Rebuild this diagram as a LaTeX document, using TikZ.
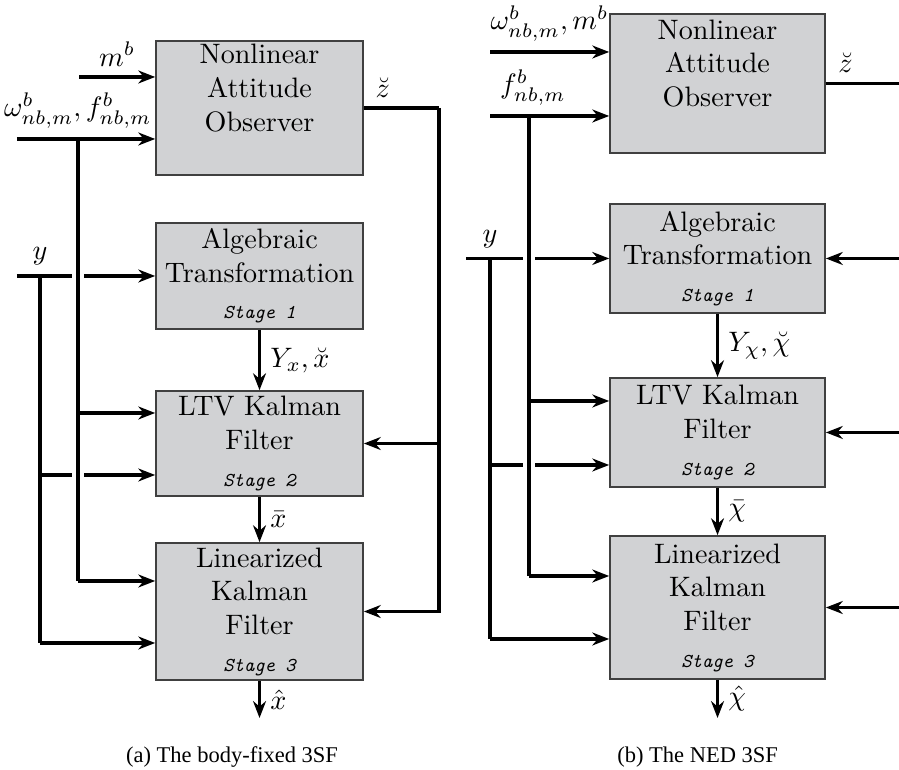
\documentclass[tikz,border=0pt]{standalone}
\usetikzlibrary{arrows.meta}
\font\capfont="Liberation Serif" at 8pt
\definecolor{boxgray}{RGB}{209,210,212}
\newcommand{\stg}[1]{\\[1pt]{\scriptsize\ttfamily\itshape Stage #1}}
\begin{document}
\begin{tikzpicture}
    [line width=1.1pt,>={Stealth[length=6pt,width=4.6pt]},
     block/.style={draw=black!75,line width=0.6pt,fill=boxgray,align=center,inner sep=0pt},
     blocka/.style={block,minimum width=2.5875cm},
     blockb/.style={block,minimum width=2.6875cm}]
    \useasboundingbox (0,0) rectangle (11.2375,9.625);
    % (a) body-fixed
    \node[blocka,minimum height=1.675cm] (observera) at (3.244,8.275) {Nonlinear\\Attitude\\Observer\\[1pt]{\scriptsize\phantom{Stage}}};
    \node[blocka,minimum height=1.325cm] (algebraica) at (3.244,6.175) {Algebraic\\Transformation\stg{1}};
    \node[blocka,minimum height=1.3125cm] (ltva) at (3.244,4.081) {LTV Kalman\\Filter\stg{2}};
    \node[blocka,minimum height=1.7125cm] (lineara) at (3.244,1.981) {Linearized\\Kalman\\Filter\stg{3}};
    \coordinate (mina) at (0.9875,8.6625);
    \coordinate (ina) at (0.2125,7.8875);
    \coordinate (wa) at (0.975,7.8875);
    \coordinate (wa2) at (0.975,4.4625);
    \coordinate (wa3) at (0.975,2.3625);
    \coordinate (yina) at (0.2125,6.175);
    \coordinate (ya) at (0.5,6.175);
    \coordinate (ya2) at (0.5,3.6875);
    \coordinate (ya3) at (0.5,1.5875);
    \coordinate (fba) at (5.4875,8.275);
    \coordinate (outa) at (3.244,0.65);
    \draw[->] (mina) -- (mina -| observera.west) node[midway,above] (mlabela) {$m^b$};
    \draw[->] (ina) -- (ina -| observera.west) node[pos=.44,above] (wlabela) {$\omega^b_{nb,m},f^b_{nb,m}$};
    \draw (wa) -- (wa3);
    \draw[->] (wa2) -- (wa2 -| ltva.west);
    \draw[->] (wa3) -- (wa3 -| lineara.west);
    \draw (yina) -- ([xshift=-.075cm]ya -| wa);
    \draw[->] ([xshift=.075cm]ya -| wa) -- (algebraica.west);
    \node[above] (ylabela) at (ya) {$y$};
    \draw (ya) -- (ya3);
    \draw (ya2) -- ([xshift=-.075cm]ya2 -| wa);
    \draw[->] ([xshift=.075cm]ya2 -| wa) -- (ya2 -| ltva.west);
    \draw[->] (ya3) -- (ya3 -| lineara.west);
    \draw (observera.east) -- (fba) node[pos=.25,above] (zlabela) {$\breve{z}$};
    \draw[->] (fba) |- (lineara.east);
    \draw[->] (fba |- ltva.east) -- (ltva.east);
    \draw[->] (algebraica.south) -- (ltva.north) node[midway,right] (ylaba) {$Y_x,\breve{x}$};
    \draw[->] (ltva.south) -- (lineara.north) node[midway,right] (xbara) {$\bar{x}$};
    \draw[->] (lineara.south) -- (outa) node[midway,right] (xhata) {$\hat{x}$};
    \node[font=\capfont] (capa) at (2.9,0.1625) {(a) The body-fixed 3SF};
    % (b) NED
    \node[blockb,minimum height=1.7375cm] (observerb) at (8.969,8.581) {Nonlinear\\Attitude\\Observer\\[1pt]{\scriptsize\phantom{Stage}}};
    \node[blockb,minimum height=1.3625cm] (algebraicb) at (8.969,6.394) {Algebraic\\Transformation\stg{1}};
    \node[blockb,minimum height=1.3625cm] (ltvb) at (8.969,4.219) {LTV Kalman\\Filter\stg{2}};
    \node[blockb,minimum height=1.7875cm] (linearb) at (8.969,2.031) {Linearized\\Kalman\\Filter\stg{3}};
    \coordinate (minb) at (6.125,8.975);
    \coordinate (inb) at (6.125,8.175);
    \coordinate (wb) at (6.6125,8.175);
    \coordinate (wb2) at (6.6125,4.6125);
    \coordinate (wb3) at (6.6125,2.425);
    \coordinate (yinb) at (5.825,6.394);
    \coordinate (yb) at (6.125,6.394);
    \coordinate (yb2) at (6.125,3.8125);
    \coordinate (yb3) at (6.125,1.6375);
    \coordinate (edgeb) at (11.2375,8.581);
    \coordinate (outb) at (8.969,0.65);
    \draw[->] (minb) -- (minb -| observerb.west) node[midway,above] (mlabelb) {$\omega^b_{nb,m},m^b$};
    \draw[->] (inb) -- (inb -| observerb.west) node[pos=.36,above] (flabelb) {$f^b_{nb,m}$};
    \draw (wb) -- (wb3);
    \draw[->] (wb2) -- (wb2 -| ltvb.west);
    \draw[->] (wb3) -- (wb3 -| linearb.west);
    \draw (yinb) -- ([xshift=-.075cm]yb -| wb);
    \draw[->] ([xshift=.075cm]yb -| wb) -- (algebraicb.west);
    \node[above] (ylabelb) at (yb) {$y$};
    \draw (yb) -- (yb3);
    \draw (yb2) -- ([xshift=-.075cm]yb2 -| wb);
    \draw[->] ([xshift=.075cm]yb2 -| wb) -- (yb2 -| ltvb.west);
    \draw[->] (yb3) -- (yb3 -| linearb.west);
    \draw (observerb.east) -- (edgeb) node[pos=.27,above] (zlabelb) {$\breve{z}$};
    \draw[<-] (algebraicb.east) -- (algebraicb.east -| edgeb);
    \draw[<-] (ltvb.east) -- (ltvb.east -| edgeb);
    \draw[<-] (linearb.east) -- (linearb.east -| edgeb);
    \draw[->] (algebraicb.south) -- (ltvb.north) node[midway,right] (ylabb) {$Y_\chi,\breve{\chi}$};
    \draw[->] (ltvb.south) -- (linearb.north) node[midway,right] (xbarb) {$\bar{\chi}$};
    \draw[->] (linearb.south) -- (outb) node[midway,right] (xhatb) {$\hat{\chi}$};
    \node[font=\capfont] (capb) at (8.72,0.1625) {(b) The NED 3SF};
  \end{tikzpicture}
\end{document}
